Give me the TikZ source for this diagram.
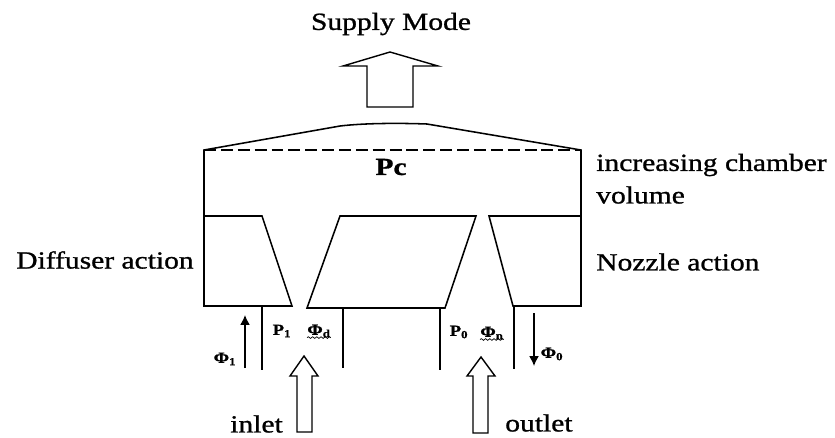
\documentclass[tikz,border=0pt]{standalone}
\usepackage{fontspec}
\setmainfont[FakeStretch=1.2, FakeBold=1]{Liberation Serif}
\usetikzlibrary{arrows.meta}
\usetikzlibrary{decorations.pathmorphing}
\tikzstyle{wall} = [draw, line width=1.1pt, line join=miter]
\tikzstyle{bigarrow} = [draw, line width=1pt, line join=miter]
\tikzstyle{flowarrow} = [line width=1pt, -{Latex[length=7pt,width=7pt]}]
\tikzstyle{squiggle} = [line width=0.5pt, decorate, decoration={snake, amplitude=0.6pt, segment length=3pt}]
\tikzstyle{biglabel} = [inner sep=0, font=\fontsize{17.5}{20}\selectfont]
\tikzstyle{smalllabel} = [inner sep=0, font=\fontsize{11}{13}\selectfont\bfseries]
\begin{document}
\begin{tikzpicture}[x=0.025cm, y=-0.025cm]
    \useasboundingbox (0,0) rectangle (835,437);

    % chamber
    \coordinate (roof_left) at (204,150);
    \coordinate (roof_right) at (581,150);
    \draw[wall] (204,216) -- (roof_left) -- (340,126) .. controls (365,123) and (400,123) .. (427,124) -- (roof_right) -- (581,216);
    \draw[wall, dashed, dash pattern=on 8.5pt off 3.5pt, line width=0.8pt] (roof_left) -- (roof_right);
    \node[biglabel, font=\fontsize{17.5}{20}\selectfont\bfseries] (pc) at (391,167) {Pc};

    % diffuser, middle block and nozzle
    \draw[wall] (204,216) -- (262,216) -- (292,306) -- (204,306) -- cycle;
    \draw[wall] (340,216) -- (476,216) -- (445,308) -- (307,308) -- cycle;
    \draw[wall] (581,216) -- (489,216) -- (513,306) -- (581,306) -- cycle;

    % pipes
    \foreach \px/\ptop/\pbot in {262/306/370, 343/308/368, 440/308/370, 514/306/369}
        \draw[wall] (\px,\ptop) -- (\px,\pbot);

    % small flow arrows
    \coordinate (phi_one_s) at (245,368);
    \coordinate (phi_one_e) at (245,315);
    \coordinate (phi_o_s) at (534,313);
    \coordinate (phi_o_e) at (534,366);
    \draw[flowarrow] (phi_one_s) -- (phi_one_e);
    \draw[flowarrow] (phi_o_s) -- (phi_o_e);

    % hollow arrows
    \draw[bigarrow] (390,52) -- (438,66) -- (413,66) -- (413,107) -- (367,107) -- (367,66) -- (343,66) -- cycle;
    \draw[bigarrow] (304,356) -- (318,376) -- (312,376) -- (312,432) -- (297,432) -- (297,376) -- (290,376) -- cycle;
    \draw[bigarrow] (481,357) -- (495,376) -- (488,376) -- (488,433) -- (473,433) -- (473,376) -- (467,376) -- cycle;

    % labels
    \node[biglabel] (supply) at (391,24) {Supply Mode};
    \node[biglabel, anchor=west] (chamber_a) at (596,165) {increasing chamber};
    \node[biglabel, anchor=west] (chamber_b) at (596,195) {volume};
    \node[biglabel, anchor=west] (diffuser) at (16,260) {Diffuser action};
    \node[biglabel, anchor=west] (nozzle) at (596,262) {Nozzle action};
    \node[biglabel, anchor=west] (inlet) at (230,424) {inlet};
    \node[biglabel, anchor=west] (outlet) at (505,423) {outlet};

    \node[smalllabel] (phi_one) at (225,359) {Φ\textsubscript{1}};
    \node[smalllabel] (p_one) at (282,331) {P\textsubscript{1}};
    \node[smalllabel] (phi_d) at (319,331) {Φ\textsubscript{d}};
    \node[smalllabel] (p_o) at (459,332) {P\textsubscript{0}};
    \node[smalllabel] (phi_n) at (492,333) {Φ\textsubscript{n}};
    \node[smalllabel] (phi_o) at (552,354) {Φ\textsubscript{0}};
    \draw[squiggle] (phi_d.south west) -- (phi_d.south east);
    \draw[squiggle] (phi_n.south west) -- (phi_n.south east);
\end{tikzpicture}
\end{document}
